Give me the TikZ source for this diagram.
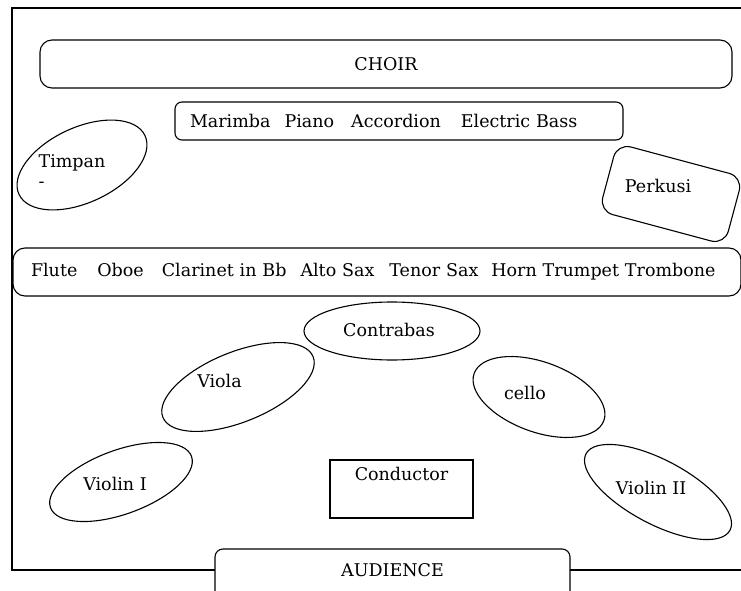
\documentclass[tikz,border=0pt]{standalone}
\usepackage{fontspec}
\setmainfont{DejaVu Serif}
\usetikzlibrary{shapes.geometric}

\begin{document}
\begin{tikzpicture}[x=1pt, y=-1pt, line width=1.1pt,
    every node/.style={font=\fontsize{17.5}{20}\selectfont},
    box/.style={draw, rounded corners=10pt, fill=white},
    part/.style={draw, ellipse, inner sep=0pt}]
    \useasboundingbox (0,0) rectangle (741,591);

    % Stage frame
    \draw (12,8) rectangle (760,570);

    % Rows {choir, keys, winds}
    \node [box, rounded corners=12pt, minimum width=692, minimum height=48]  (choir) at (386,64) {CHOIR};
    \node [box, rounded corners=7pt, minimum height=38, text width=418, inner xsep=15, align=left] (keys) at (399,121)
        {Marimba\hspace{14pt}Piano\hspace{17pt}Accordion\hspace{20pt}Electric Bass};
    \node [box, rounded corners=12pt, minimum height=48, text width=692, inner xsep=18, align=left] (winds) at (377,272)
        {Flute\hspace{20pt}Oboe\hspace{18pt}Clarinet in Bb\hspace{14pt}Alto Sax\hspace{15pt}Tenor Sax\hspace{13pt}Horn Trumpet Trombone};

    % Percussion
    \node [part, rotate=25, minimum width=139, minimum height=75] (timpani) at (82,165) {};
    \node [align=left]  (timpanitext) at (72,171) {Timpan\\-};
    \node [box, rounded corners=14pt, rotate=-15, minimum width=130, minimum height=70] (perkusi) at (671,194) {};
    \node (perkusitext) at (658,185.5) {Perkusi};

    % Strings
    \node [part, minimum width=176, minimum height=58]             (contrabas) at (392,331) {};
    \node (contrabastext) at (389,329.5) {Contrabas};
    \node [part, rotate=22, minimum width=162, minimum height=70]  (viola)     at (238,387) {};
    \node (violatext) at (219.5,380.5) {Viola};
    \node [part, rotate=-20, minimum width=138, minimum height=70] (cello)     at (539,397) {};
    \node (cellotext) at (525,392.5) {cello};
    \node [part, rotate=20, minimum width=150, minimum height=64]  (violinI)   at (121,482) {};
    \node (violinItext) at (115,483.5) {Violin I};
    \node [part, rotate=-28, minimum width=163, minimum height=64] (violinII)  at (658,492) {};
    \node (violinIItext) at (651,487.5) {Violin II};

    % Conductor and audience
    \node [draw, minimum width=143, minimum height=58,
           label={[anchor=center, yshift=-15pt]north:Conductor}] (conductor) at (401.5,489) {};
    \node [box, rounded corners=8pt, minimum width=355, minimum height=52,
           label={[anchor=center, yshift=-21.5pt]north:AUDIENCE}] (audience) at (392.5,575) {};

\end{tikzpicture}
\end{document}
